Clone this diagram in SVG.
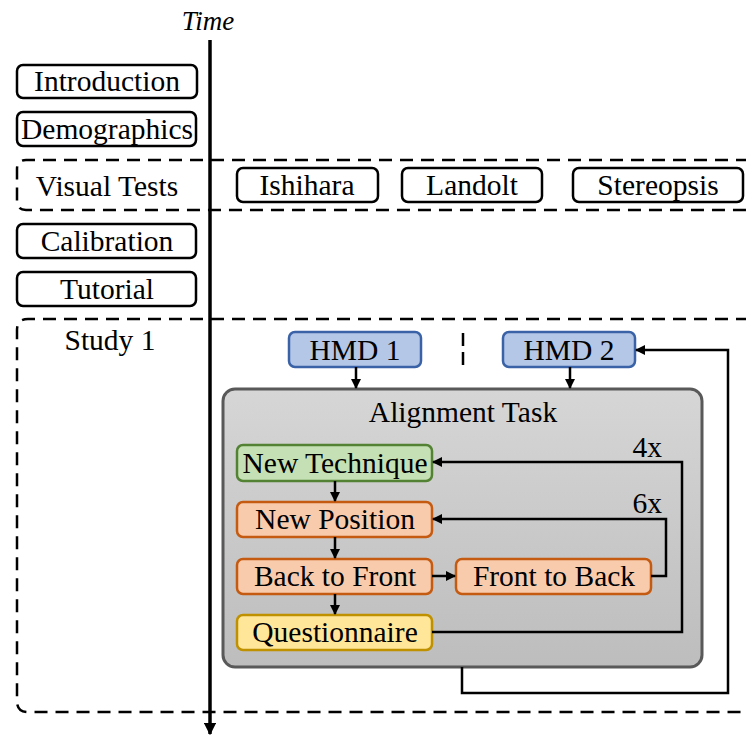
<svg xmlns="http://www.w3.org/2000/svg" width="746" height="736" viewBox="0 0 746 736">
<style>
text{font-family:'Liberation Serif','Times New Roman',serif;font-size:29.5px;fill:#000;text-anchor:middle}
.box{fill:#fff;stroke:#000;stroke-width:2.5}
.region{fill:none;stroke:#000;stroke-width:2.5;stroke-dasharray:13 8}
.hmd{fill:#b4c7e7;stroke:#3a62a7;stroke-width:2.5}
.green{fill:#c5e0b4;stroke:#548235;stroke-width:2.5}
.orange{fill:#f8cbad;stroke:#c55a11;stroke-width:2.5}
.yellow{fill:#ffe699;stroke:#bf9000;stroke-width:2.5}
.conn{fill:none;stroke:#000;stroke-width:2.5}
</style>
<defs>
<marker id="ah" viewBox="0 0 10 10" refX="9" refY="5" markerWidth="4" markerHeight="4" orient="auto" markerUnits="strokeWidth">
<path d="M0,0 L10,5 L0,10 z" fill="#000"/>
</marker>
<marker id="ahBig" viewBox="0 0 10 10" refX="9" refY="5" markerWidth="3.5" markerHeight="3.5" orient="auto" markerUnits="strokeWidth">
<path d="M0,0 L10,5 L0,10 z" fill="#000"/>
</marker>
<linearGradient id="grayg" x1="0" y1="0" x2="0" y2="1">
<stop offset="0" stop-color="#d6d6d6"/>
<stop offset="1" stop-color="#bdbdbd"/>
</linearGradient>
</defs>

<g id="regions">
<path class="region" d="M770 160 H26 Q17 160 17 169 V201 Q17 210 26 210 H770"/>
<path class="region" d="M770 319 H28 Q17 319 17 330 V701 Q17 712 28 712 H770"/>
</g>

<g id="time-axis">
<text x="208" y="30" style="font-style:italic;font-size:27px">Time</text>
<line x1="210" y1="40" x2="210" y2="734" stroke="#000" stroke-width="3.5" marker-end="url(#ahBig)"/>
</g>

<g id="introduction"><rect class="box" x="17" y="65" width="180" height="33" rx="6"/><text x="107" y="91">Introduction</text></g>
<g id="demographics"><rect class="box" x="17" y="112" width="179" height="34" rx="6"/><text x="107" y="139">Demographics</text></g>
<g id="visual-tests"><text x="107" y="196">Visual Tests</text></g>
<g id="ishihara"><rect class="box" x="237" y="168" width="141" height="34" rx="6"/><text x="307" y="195">Ishihara</text></g>
<g id="landolt"><rect class="box" x="402" y="168" width="140" height="34" rx="6"/><text x="472" y="195">Landolt</text></g>
<g id="stereopsis"><rect class="box" x="573" y="168" width="170" height="34" rx="6"/><text x="658" y="195">Stereopsis</text></g>
<g id="calibration"><rect class="box" x="17" y="224" width="179" height="34" rx="6"/><text x="107" y="251">Calibration</text></g>
<g id="tutorial"><rect class="box" x="17" y="272" width="179" height="34" rx="6"/><text x="107" y="299">Tutorial</text></g>
<g id="study1"><text x="110" y="350">Study 1</text></g>

<g id="hmd1"><rect class="hmd" x="289" y="332" width="132" height="35" rx="6"/><text x="355" y="360">HMD 1</text></g>
<g id="separator"><line x1="463" y1="333" x2="463" y2="367" stroke="#000" stroke-width="2.5" stroke-dasharray="13 6"/></g>
<g id="hmd2"><rect class="hmd" x="503" y="332" width="132" height="35" rx="6"/><text x="569" y="360">HMD 2</text></g>

<g id="alignment-task"><rect x="223" y="389" width="479" height="278" rx="12" fill="url(#grayg)" stroke="#595959" stroke-width="3"/><text x="463" y="422">Alignment Task</text></g>

<g id="new-technique"><rect class="green" x="237" y="445" width="195" height="36" rx="6"/><text x="335" y="473">New Technique</text></g>
<g id="new-position"><rect class="orange" x="237" y="502" width="195" height="35" rx="6"/><text x="335" y="529">New Position</text></g>
<g id="back-to-front"><rect class="orange" x="237" y="559" width="195" height="35" rx="6"/><text x="335" y="586">Back to Front</text></g>
<g id="front-to-back"><rect class="orange" x="456" y="559" width="195" height="35" rx="6"/><text x="554" y="586">Front to Back</text></g>
<g id="questionnaire"><rect class="yellow" x="237" y="615" width="195" height="35" rx="6"/><text x="335" y="642">Questionnaire</text></g>

<g id="connectors">
<line class="conn" x1="356" y1="367" x2="356" y2="388" marker-end="url(#ah)"/>
<line class="conn" x1="570" y1="367" x2="570" y2="388" marker-end="url(#ah)"/>
<line class="conn" x1="335" y1="481" x2="335" y2="501" marker-end="url(#ah)"/>
<line class="conn" x1="335" y1="537" x2="335" y2="558" marker-end="url(#ah)"/>
<line class="conn" x1="335" y1="594" x2="335" y2="614" marker-end="url(#ah)"/>
<line class="conn" x1="432" y1="576" x2="455" y2="576" marker-end="url(#ah)"/>
<polyline class="conn" points="651,576 666,576 666,519 433,519" marker-end="url(#ah)"/>
<polyline class="conn" points="432,632 682,632 682,462 433,462" marker-end="url(#ah)"/>
<polyline class="conn" points="462,667 462,693 728,693 728,350 636,350" marker-end="url(#ah)"/>
<text x="662" y="457" style="text-anchor:end">4x</text>
<text x="662" y="513" style="text-anchor:end">6x</text>
</g>
</svg>
